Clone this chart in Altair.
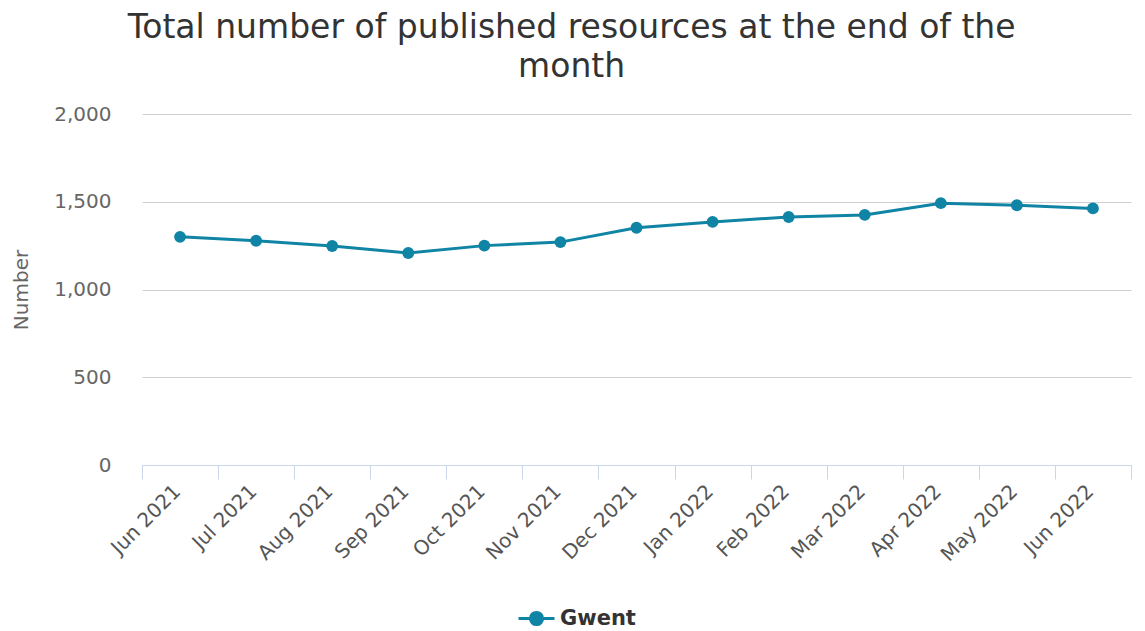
import altair as alt
import pandas as pd

months = ["Jun 2021", "Jul 2021", "Aug 2021", "Sep 2021", "Oct 2021", "Nov 2021",
          "Dec 2021", "Jan 2022", "Feb 2022", "Mar 2022", "Apr 2022", "May 2022", "Jun 2022"]
values = [1300, 1278, 1248, 1208, 1250, 1270, 1352, 1385, 1413, 1425, 1492, 1480, 1462]
series = ["Gwent"] * len(months)

df = pd.DataFrame({"month": months, "value": values, "series": series})

teal = "#0f84a4"
font = "DejaVu Sans"

x = alt.X(
    "month:N", sort=months, bandPosition=0.5,
    scale=alt.Scale(type="band", paddingInner=0, paddingOuter=0),
    axis=alt.Axis(title=None, labelAngle=-45, tickBand="extent", ticks=True, tickSize=14,
                  tickColor="#ccd6eb", domainColor="#ccd6eb", labelFontSize=20,
                  labelColor="#555555", labelPadding=2, labelOffset=-10, grid=False,
                  labelFont=font),
)
y = alt.Y(
    "value:Q", scale=alt.Scale(domain=[0, 2000]),
    axis=alt.Axis(title="Number", values=[0, 500, 1000, 1500, 2000], format=",.0f", ticks=False,
                  domain=False, gridColor="#d0d0d0", labelPadding=31, labelFontSize=20,
                  labelColor="#666666", titleFontSize=20, titleColor="#666666",
                  titleFontWeight="normal", titlePadding=22, labelFont=font, titleFont=font),
)
color = alt.Color(
    "series:N", scale=alt.Scale(domain=["Gwent"], range=[teal]),
    legend=alt.Legend(
        title=None, orient="none", legendX=375, legendY=485, padding=0,
        labelFontSize=21, labelFontWeight="bold", labelColor="#333333", labelFont=font,
        symbolType="M-1,0H1M-0.34,0A0.34,0.34 0 1 0 0.34,0A0.34,0.34 0 1 0 -0.34,0Z",
        symbolSize=1296, symbolStrokeWidth=3, symbolFillColor=teal, symbolStrokeColor=teal,
        labelOffset=4,
    ),
)

chart = (
    alt.Chart(df)
    .mark_line(strokeWidth=3, point=alt.OverlayMarkDef(size=140, filled=True, opacity=1))
    .encode(x=x, y=y, color=color)
    .properties(
        width=989, height=351,
        padding={"left": 3, "top": 4, "right": 5, "bottom": 0},
        title=alt.TitleParams(
            ["Total number of published resources at the end of the", "month"],
            fontSize=33, font=font, fontWeight="normal", color="#333333",
            anchor="middle", frame="bounds", lineHeight=39, offset=20,
        ),
    )
    .configure_view(stroke=None)
)

chart.save("out.html", embed_options={"renderer": "svg", "actions": False})
